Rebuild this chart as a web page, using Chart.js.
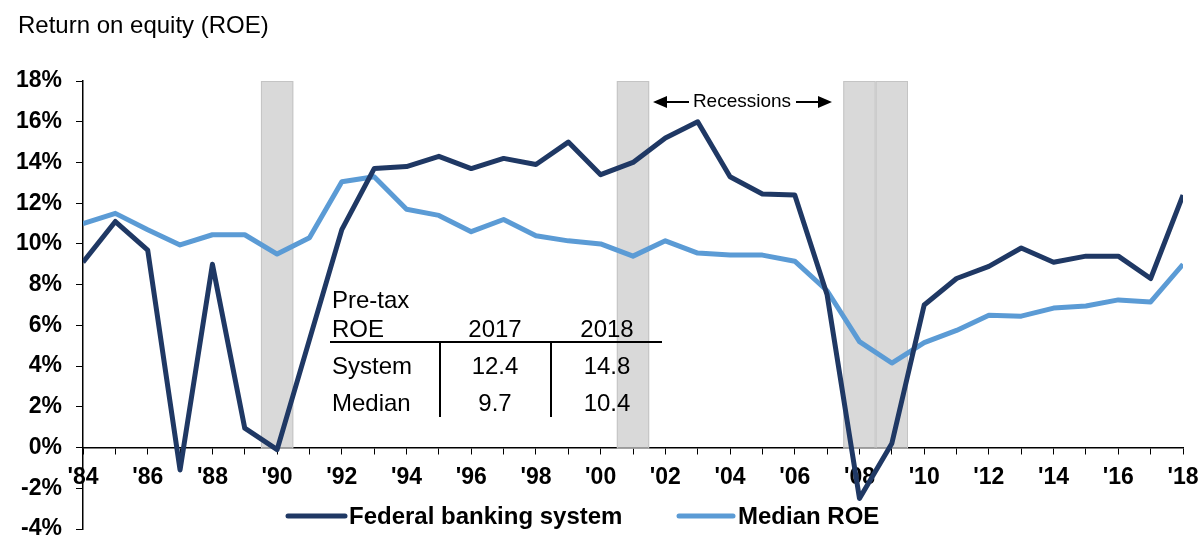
<!DOCTYPE html>
<html>
<head>
<meta charset="utf-8">
<script src="https://cdn.jsdelivr.net/npm/chart.js@4"></script>
<style>
  html, body { margin: 0; padding: 0; background: #fff; }
</style>
</head>
<body>
<canvas id="chart" width="1201" height="537"></canvas>
<script>
const FONT = "'Liberation Sans', Arial, sans-serif";

const years = [1984, 1985, 1986, 1987, 1988, 1989, 1990, 1991, 1992, 1993, 1994, 1995,
  1996, 1997, 1998, 1999, 2000, 2001, 2002, 2003, 2004, 2005, 2006, 2007, 2008, 2009,
  2010, 2011, 2012, 2013, 2014, 2015, 2016, 2017, 2018];
const federalSystem = [9.1, 11.1, 9.7, -1.1, 9.0, 0.95, -0.1, 5.3, 10.7, 13.7, 13.8, 14.3,
  13.7, 14.2, 13.9, 15.0, 13.4, 14.0, 15.2, 16.0, 13.3, 12.45, 12.4, 7.5, -2.5, 0.2,
  7.0, 8.3, 8.9, 9.8, 9.1, 9.4, 9.4, 8.3, 12.4];
const medianRoe = [11.0, 11.5, 10.7, 9.95, 10.45, 10.45, 9.5, 10.3, 13.05, 13.3, 11.7, 11.4,
  10.6, 11.2, 10.4, 10.15, 10.0, 9.4, 10.15, 9.55, 9.45, 9.45, 9.15, 7.7, 5.2, 4.15,
  5.15, 5.75, 6.5, 6.45, 6.85, 6.95, 7.25, 7.15, 9.0];

const tickYears = [1984, 1986, 1988, 1990, 1992, 1994, 1996, 1998, 2000, 2002, 2004, 2006,
  2008, 2010, 2012, 2014, 2016, 2018];
const tickLabels = ["'84", "'86", "'88", "'90", "'92", "'94", "'96", "'98", "'00", "'02", "'04", "'06",
  "'08", "'10", "'12", "'14", "'16", "'18"];

// recession shading (year fractions)
const recessionStart = [1989.5, 2000.5, 2007.5, 2008.5];
const recessionEnd = [1990.5, 2001.5, 2008.5, 2009.5];

// pre-tax ROE table
const tableYears = ['2017', '2018'];
const tableRows = ['System', 'Median'];
const systemPretax = ['12.4', '14.8'];
const medianPretax = ['9.7', '10.4'];

const darkBlue = '#1f3864';
const lightBlue = '#5b9bd5';

const recessionBands = {
  id: 'recessionBands',
  beforeDatasetsDraw(chart) {
    const { ctx, scales: { x, y } } = chart;
    const top = y.getPixelForValue(18);
    const bottom = y.getPixelForValue(0);
    ctx.save();
    for (let i = 0; i < recessionStart.length; i++) {
      const x1 = x.getPixelForValue(recessionStart[i]);
      const x2 = x.getPixelForValue(recessionEnd[i]);
      ctx.fillStyle = '#d9d9d9';
      ctx.fillRect(x1, top, x2 - x1, bottom - top);
      ctx.strokeStyle = '#c4c4c4';
      ctx.lineWidth = 1;
      ctx.strokeRect(x1 + 0.5, top + 0.5, x2 - x1 - 1, bottom - top);
    }
    ctx.restore();
  }
};

const extras = {
  id: 'extras',
  afterDraw(chart) {
    const ctx = chart.ctx;
    ctx.save();
    ctx.fillStyle = '#000';
    ctx.strokeStyle = '#000';

    // title
    ctx.font = '24px ' + FONT;
    ctx.textAlign = 'left';
    ctx.textBaseline = 'alphabetic';
    ctx.fillText('Return on equity (ROE)', 18, 33);

    // recessions annotation
    ctx.font = '19px ' + FONT;
    ctx.textAlign = 'center';
    ctx.textBaseline = 'middle';
    ctx.fillText('Recessions', 742, 102);
    ctx.lineWidth = 2;
    ctx.beginPath();
    ctx.moveTo(689, 102); ctx.lineTo(662, 102);
    ctx.moveTo(796, 102); ctx.lineTo(823, 102);
    ctx.stroke();
    ctx.beginPath();
    ctx.moveTo(653, 102); ctx.lineTo(667, 96); ctx.lineTo(667, 108); ctx.closePath();
    ctx.moveTo(832, 102); ctx.lineTo(818, 96); ctx.lineTo(818, 108); ctx.closePath();
    ctx.fill();

    // table
    ctx.font = '24px ' + FONT;
    ctx.textBaseline = 'alphabetic';
    ctx.textAlign = 'left';
    ctx.fillText('Pre-tax', 332, 308);
    ctx.fillText('ROE', 332, 337);
    ctx.fillText(tableRows[0], 332, 374);
    ctx.fillText(tableRows[1], 332, 411);
    ctx.textAlign = 'center';
    const cols = [495, 607];
    for (let i = 0; i < tableYears.length; i++) {
      ctx.fillText(tableYears[i], cols[i], 337);
      ctx.fillText(systemPretax[i], cols[i], 374);
      ctx.fillText(medianPretax[i], cols[i], 411);
    }
    ctx.lineWidth = 2;
    ctx.beginPath();
    ctx.moveTo(330, 342); ctx.lineTo(662, 342);
    ctx.moveTo(440, 342); ctx.lineTo(440, 417);
    ctx.moveTo(551, 342); ctx.lineTo(551, 417);
    ctx.stroke();

    // legend
    const items = [[288, 345, 349], [679, 733, 738]];
    ctx.font = 'bold 24px ' + FONT;
    ctx.textAlign = 'left';
    ctx.lineCap = 'round';
    chart.data.datasets.forEach((ds, i) => {
      const [a, b, t] = items[i];
      ctx.strokeStyle = ds.borderColor;
      ctx.lineWidth = 5;
      ctx.beginPath();
      ctx.moveTo(a, 516); ctx.lineTo(b, 516);
      ctx.stroke();
      ctx.fillStyle = '#000';
      ctx.fillText(ds.label, t, 524);
    });
    ctx.restore();
  }
};

const ctx = document.getElementById('chart').getContext('2d');

const config = {
  type: 'line',
  data: {
    datasets: [{
      label: 'Federal banking system',
      data: years.map((yr, i) => ({ x: yr, y: federalSystem[i] })),
      borderColor: darkBlue,
      borderWidth: 5,
      pointRadius: 0,
      borderJoinStyle: 'round',
      tension: 0
    }, {
      label: 'Median ROE',
      data: years.map((yr, i) => ({ x: yr, y: medianRoe[i] })),
      borderColor: lightBlue,
      borderWidth: 5,
      pointRadius: 0,
      borderJoinStyle: 'round',
      tension: 0
    }]
  },
  options: {
    responsive: false,
    animation: false,
    layout: { padding: { left: 0, right: 18, top: 81, bottom: 8 } },
    plugins: {
      legend: { display: false },
      tooltip: { enabled: false }
    },
    scales: {
      x: {
        type: 'linear',
        min: 1984,
        max: 2018,
        position: { y: 0 },
        ticks: {
          stepSize: 1,
          autoSkip: false,
          maxRotation: 0,
          padding: 10,
          color: '#000',
          font: { family: FONT, size: 23, weight: 'bold' },
          callback: function(v) {
            const idx = tickYears.indexOf(v);
            return idx >= 0 ? tickLabels[idx] : '';
          }
        },
        grid: { drawOnChartArea: false, drawTicks: true, tickLength: 6, color: '#000', lineWidth: 1 },
        border: { display: true, color: '#000', width: 1.5 },
        afterFit: function(s) {
          s.paddingLeft = 0;
          s.paddingRight = 0;
        }
      },
      y: {
        min: -4,
        max: 18,
        ticks: {
          stepSize: 2,
          padding: 14,
          color: '#000',
          font: { family: FONT, size: 23, weight: 'bold' },
          callback: function(v) { return v + '%'; }
        },
        grid: { drawOnChartArea: false, drawTicks: true, tickLength: 7, color: '#000', lineWidth: 1 },
        border: { display: true, color: '#000', width: 1.5 },
        afterFit: function(s) {
          s.width = 83;
          s.paddingTop = 0;
          s.paddingBottom = 0;
        }
      }
    }
  },
  plugins: [recessionBands, extras]
};

const myChart = new Chart(ctx, config);
</script>
</body>
</html>
